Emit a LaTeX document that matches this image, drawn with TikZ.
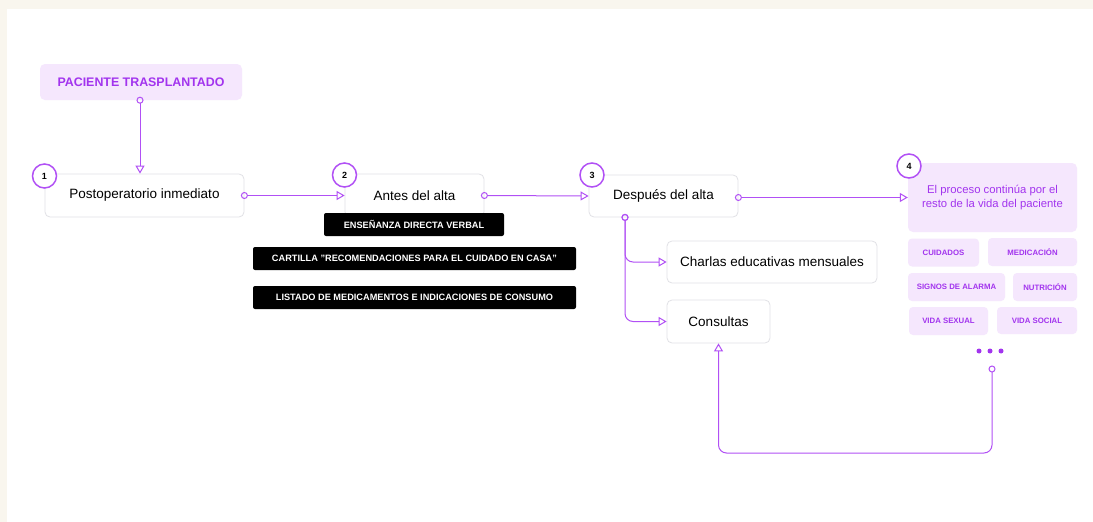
\documentclass[tikz,border=0pt]{standalone}
\usepackage{fontspec}
\setmainfont{Liberation Sans}
\usetikzlibrary{arrows.meta}
\definecolor{cream}{HTML}{F9F6EE}
\definecolor{linepurple}{HTML}{B150F5}
\definecolor{textpurple}{HTML}{A234EE}
\definecolor{lightpurple}{HTML}{F5E7FD}
\definecolor{boxgray}{HTML}{E1E1E6}
\tikzset{
  stepbox/.style={draw=boxgray, line width=0.8pt, fill=white, rounded corners=5pt, inner sep=0pt,
    font=\fontsize{13.5}{16}\selectfont},
  numcirc/.style={circle, draw=linepurple, line width=1.5pt, fill=white, minimum size=24pt, inner sep=0pt,
    font=\bfseries\fontsize{9}{10}\selectfont},
  darktag/.style={fill=black, rounded corners=2pt, text=white, minimum height=23pt, inner sep=0pt,
    font=\bfseries\fontsize{9.2}{11}\selectfont},
  pinktag/.style={fill=lightpurple, rounded corners=4pt, text=textpurple, inner sep=0pt,
    font=\bfseries\fontsize{7.8}{9}\selectfont},
  link/.style={draw=linepurple, line width=1pt, rounded corners=8pt, shorten <=-3.5pt,
    {Circle[open,length=7pt,width=7pt]}-{Triangle[open,length=8pt,width=9pt]}},
}
\begin{document}
\begin{tikzpicture}[x=1pt,y=-1pt]
% background
\fill[cream] (0,0) rectangle (1093,522);
\fill[white] (7,9) rectangle (1093,522);
\useasboundingbox (0,0) rectangle (1093,522);
% start
\node[fill=lightpurple, rounded corners=5pt, minimum width=202pt, minimum height=36pt, inner sep=0pt,
  text=textpurple, font=\bfseries\fontsize{12.4}{14}\selectfont] (pac) at (141,82) {PACIENTE TRASPLANTADO};
% steps
\node[stepbox, minimum width=199pt, minimum height=43pt] (post) at (144.5,195.5) {Postoperatorio inmediato};
\node[stepbox, minimum width=139pt, minimum height=43pt] (antes) at (414.5,195.5) {Antes del alta};
\node[stepbox, minimum width=149pt, minimum height=42pt] (despues) at (663.5,196) {Después del alta};
\node[stepbox, minimum width=210pt, minimum height=42pt] (charlas) at (772,262) {Charlas educativas mensuales};
\node[stepbox, minimum width=103pt, minimum height=43pt] (consultas) at (718.5,321.5) {Consultas};
\node[fill=lightpurple, rounded corners=5pt, minimum width=169pt, minimum height=69pt, inner sep=0pt,
  align=center, text=textpurple, font=\fontsize{11.3}{13.4}\selectfont] (proceso) at (992.5,197.5)
  {El proceso continúa por el\\resto de la vida del paciente};
% black labels
\node[darktag, minimum width=180pt] (verbal) at (414,224.5) {ENSEÑANZA DIRECTA VERBAL};
\node[darktag, minimum width=323pt] (cartilla) at (414.5,258.5) {CARTILLA "RECOMENDACIONES PARA EL CUIDADO EN CASA"};
\node[darktag, minimum width=323pt] (listado) at (414.5,297.5) {LISTADO DE MEDICAMENTOS E INDICACIONES DE CONSUMO};
% topics
\node[pinktag, minimum width=71pt, minimum height=28pt] (cuidados) at (943.5,252.5) {CUIDADOS};
\node[pinktag, minimum width=89pt, minimum height=28pt] (medicacion) at (1032.5,252) {MEDICACIÓN};
\node[pinktag, minimum width=97pt, minimum height=28pt] (signos) at (956.5,287) {SIGNOS DE ALARMA};
\node[pinktag, minimum width=64pt, minimum height=28pt] (nutricion) at (1045,287) {NUTRICIÓN};
\node[pinktag, minimum width=79pt, minimum height=28pt] (sexual) at (948.5,321) {VIDA SEXUAL};
\node[pinktag, minimum width=80pt, minimum height=27pt] (social) at (1037,320.5) {VIDA SOCIAL};
\foreach \dx in {979,990,1001}
  \fill[textpurple] (\dx,351) circle (2.5pt);
\coordinate (more) at (992,369);
% connectors
\draw[link] (pac.south -| 140,0) -- (post.north -| 140,0);
\draw[link] (post.east) -- (antes.west);
\draw[link] (antes.east) -- (despues.west);
\draw[link] (despues.east |- proceso.west) -- (proceso.west);
\draw[link] (despues.south -| 625,0) |- (charlas.west);
\draw[link] (despues.south -| 625,0) |- (consultas.west);
\draw[link] (more) -- (992,453) -| (consultas.south);
% numbers
\node[numcirc] (n1) at (44.5,176) {1};
\node[numcirc] (n2) at (344.5,175) {2};
\node[numcirc] (n3) at (592,175) {3};
\node[numcirc] (n4) at (909,166) {4};
\end{tikzpicture}
\end{document}
